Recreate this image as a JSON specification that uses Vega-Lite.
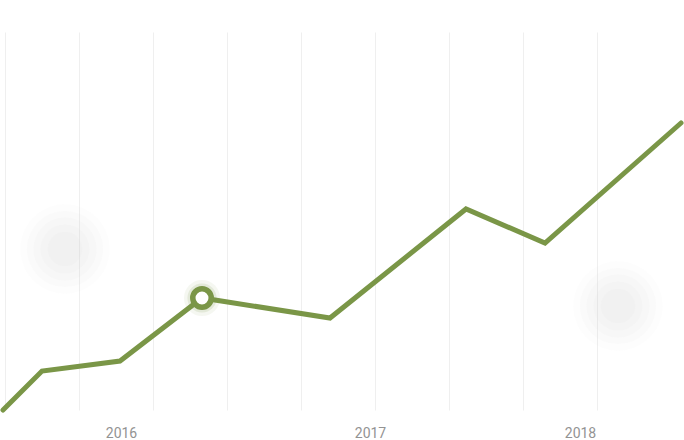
{
  "$schema": "https://vega.github.io/schema/vega-lite/v6.json",
  "width": 684,
  "height": 378,
  "autosize": "none",
  "padding": {"top": 32, "left": 0, "right": 0, "bottom": 30},
  "background": "#ffffff",
  "config": {"view": {"stroke": null}, "font": "Roboto"},
  "datasets": {
    "series": [
      {"t": 3, "v": 0},
      {"t": 42, "v": 39},
      {"t": 120, "v": 49},
      {"t": 202, "v": 112},
      {"t": 330, "v": 92},
      {"t": 466, "v": 201},
      {"t": 545, "v": 167},
      {"t": 681, "v": 287}
    ],
    "blobs": [
      {"t": 65, "v": 161},
      {"t": 618, "v": 104}
    ],
    "focus": [
      {"t": 202, "v": 112}
    ]
  },
  "layer": [
    {
      "data": {"name": "blobs"},
      "mark": {"type": "point", "filled": true, "size": 8000, "color": "#dadada", "opacity": 0.06, "clip": false},
      "encoding": {
        "x": {"field": "t", "type": "quantitative", "scale": {"domain": [0, 684], "nice": false, "zero": false},
          "axis": {
            "values": [5, 79, 121, 153, 227, 301, 370, 375, 449, 523, 580, 597],
            "labelExpr": "datum.value == 121 ? '2016' : datum.value == 370 ? '2017' : datum.value == 580 ? '2018' : ''",
            "gridOpacity": {"condition": {"test": "datum.value == 121 || datum.value == 370 || datum.value == 580", "value": 0}, "value": 1},
            "grid": true,
            "gridColor": "#efefef",
            "gridWidth": 1,
            "domain": false,
            "ticks": false,
            "title": null,
            "labelOverlap": false,
            "labelFlush": false,
            "labelBound": false,
            "labelFont": "Roboto",
            "labelFontSize": 14,
            "labelColor": "#939393",
            "labelPadding": 16
          }
        },
        "y": {"field": "v", "type": "quantitative", "scale": {"domain": [0, 378], "nice": false}, "axis": null}
      }
    },
    {
      "data": {"name": "blobs"},
      "mark": {"type": "point", "filled": true, "size": 5800, "color": "#dadada", "opacity": 0.07, "clip": false},
      "encoding": {
        "x": {"field": "t", "type": "quantitative"},
        "y": {"field": "v", "type": "quantitative"}
      }
    },
    {
      "data": {"name": "blobs"},
      "mark": {"type": "point", "filled": true, "size": 4000, "color": "#dadada", "opacity": 0.08, "clip": false},
      "encoding": {
        "x": {"field": "t", "type": "quantitative"},
        "y": {"field": "v", "type": "quantitative"}
      }
    },
    {
      "data": {"name": "blobs"},
      "mark": {"type": "point", "filled": true, "size": 2400, "color": "#dadada", "opacity": 0.08, "clip": false},
      "encoding": {
        "x": {"field": "t", "type": "quantitative"},
        "y": {"field": "v", "type": "quantitative"}
      }
    },
    {
      "data": {"name": "blobs"},
      "mark": {"type": "point", "filled": true, "size": 1200, "color": "#dadada", "opacity": 0.07, "clip": false},
      "encoding": {
        "x": {"field": "t", "type": "quantitative"},
        "y": {"field": "v", "type": "quantitative"}
      }
    },
    {
      "data": {"name": "series"},
      "mark": {"type": "line", "color": "#7a9647", "strokeWidth": 5, "strokeCap": "round", "strokeJoin": "miter", "clip": false},
      "encoding": {
        "x": {"field": "t", "type": "quantitative"},
        "y": {"field": "v", "type": "quantitative"}
      }
    },
    {
      "data": {"name": "focus"},
      "mark": {"type": "point", "filled": true, "size": 1300, "color": "#7a9647", "opacity": 0.08, "clip": false},
      "encoding": {
        "x": {"field": "t", "type": "quantitative"},
        "y": {"field": "v", "type": "quantitative"}
      }
    },
    {
      "data": {"name": "focus"},
      "mark": {"type": "point", "filled": true, "size": 850, "color": "#7a9647", "opacity": 0.14, "clip": false},
      "encoding": {
        "x": {"field": "t", "type": "quantitative"},
        "y": {"field": "v", "type": "quantitative"}
      }
    },
    {
      "data": {"name": "focus"},
      "mark": {"type": "point", "filled": false, "fill": "#ffffff", "fillOpacity": 1, "size": 340, "stroke": "#7a9647", "strokeWidth": 5.5, "opacity": 1, "clip": false},
      "encoding": {
        "x": {"field": "t", "type": "quantitative"},
        "y": {"field": "v", "type": "quantitative"}
      }
    }
  ]
}
